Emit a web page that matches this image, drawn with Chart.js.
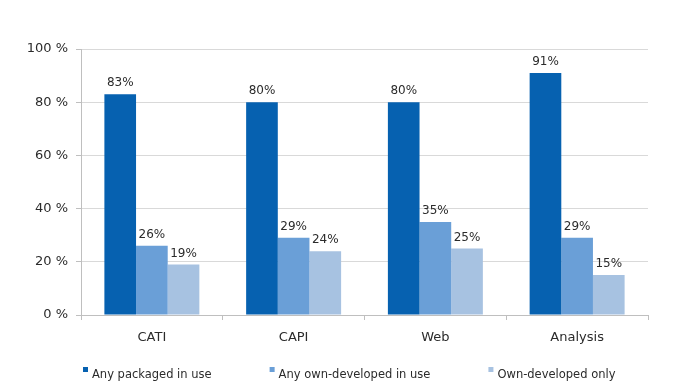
<!DOCTYPE html>
<html>
<head>
<meta charset="utf-8">
<script src="https://cdn.jsdelivr.net/npm/chart.js@4.4.1/dist/chart.umd.min.js"></script>
<style>
  html, body { margin: 0; padding: 0; background: #fff; }
  #wrap { width: 675px; height: 389px; }
</style>
</head>
<body>
<div id="wrap"><canvas id="chart" width="675" height="389"></canvas></div>
<script>
const categories = ['CATI', 'CAPI', 'Web', 'Analysis'];
const packagedInUse = [83, 80, 80, 91];
const ownDevelopedInUse = [26, 29, 35, 29];
const ownDevelopedOnly = [19, 24, 25, 15];
const yTicks = [0, 20, 40, 60, 80, 100];

const textColor = '#2b2b2b';
const fontFamily = '"DejaVu Sans", Verdana, sans-serif';

// labels above bars
const valueLabels = {
    id: 'valueLabels',
    afterDatasetsDraw(chart) {
        const ctx = chart.ctx;
        ctx.save();
        ctx.font = '12px ' + fontFamily;
        ctx.fillStyle = textColor;
        ctx.textAlign = 'center';
        ctx.textBaseline = 'bottom';
        chart.data.datasets.forEach((ds, i) => {
            chart.getDatasetMeta(i).data.forEach((bar, j) => {
                ctx.fillText(ds.data[j] + '%', bar.x, bar.y - 5);
            });
        });
        ctx.restore();
    }
};

// legend row under the axis, wider spacing than the built-in one
const bottomLegend = {
    id: 'bottomLegend',
    afterDraw(chart) {
        const ctx = chart.ctx;
        const box = 5, gap = 4, spacing = 58;
        const y = chart.height - 14;
        ctx.save();
        ctx.font = '11.5px ' + fontFamily;
        ctx.textBaseline = 'middle';
        ctx.textAlign = 'left';
        let x = chart.chartArea.left + 2;
        chart.data.datasets.forEach(ds => {
            ctx.fillStyle = ds.backgroundColor;
            ctx.fillRect(x, y - 8, box, box);
            ctx.fillStyle = textColor;
            ctx.fillText(ds.label, x + box + gap, y);
            x += box + gap + ctx.measureText(ds.label).width + spacing;
        });
        ctx.restore();
    }
};

new Chart(document.getElementById('chart').getContext('2d'), {
    type: 'bar',
    data: {
        labels: categories,
        datasets: [
            { label: 'Any packaged in use', data: packagedInUse, backgroundColor: '#0661B0' },
            { label: 'Any own-developed in use', data: ownDevelopedInUse, backgroundColor: '#6A9FD7' },
            { label: 'Own-developed only', data: ownDevelopedOnly, backgroundColor: '#A7C2E1' }
        ]
    },
    options: {
        responsive: false,
        animation: false,
        devicePixelRatio: 1,
        layout: { padding: { top: 49, right: 27, left: 0, bottom: 31 } },
        datasets: { bar: { barPercentage: 1, categoryPercentage: 0.67 } },
        scales: {
            x: {
                grid: { drawOnChartArea: false, drawTicks: true, tickLength: 5, color: '#bfbfbf' },
                border: { color: '#bfbfbf' },
                ticks: { color: textColor, font: { family: fontFamily, size: 13 }, padding: 10 },
                afterFit(scale) { scale.height = 43; }
            },
            y: {
                min: 0,
                max: 100,
                afterBuildTicks(scale) { scale.ticks = yTicks.map(v => ({ value: v })); },
                grid: { color: '#d9d9d9', tickLength: 5, tickColor: '#bfbfbf' },
                border: { color: '#bfbfbf' },
                ticks: {
                    color: textColor,
                    font: { family: fontFamily, size: 13 },
                    padding: 8,
                    callback: v => v + ' %'
                },
                afterFit(scale) { scale.width = 81; }
            }
        },
        plugins: {
            legend: { display: false },
            tooltip: { enabled: false }
        }
    },
    plugins: [valueLabels, bottomLegend]
});
</script>
</body>
</html>
